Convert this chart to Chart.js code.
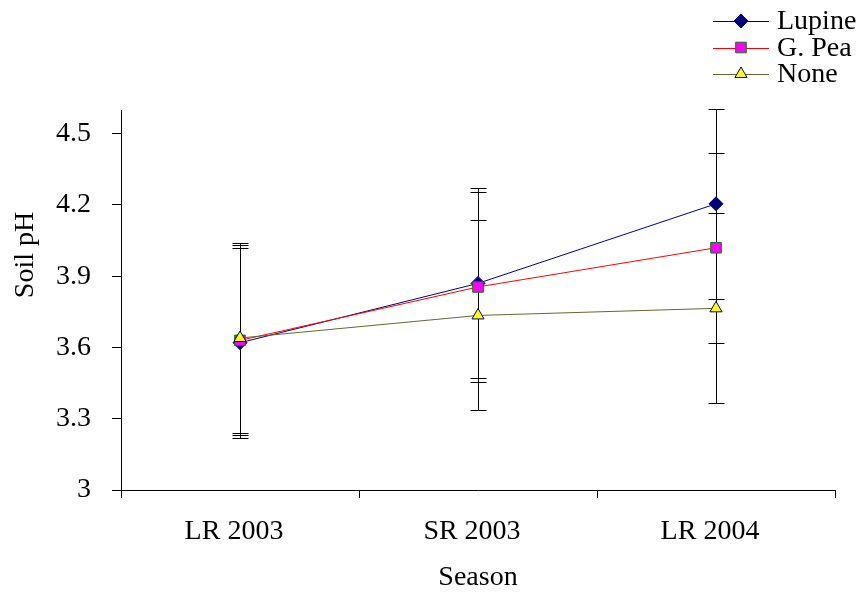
<!DOCTYPE html>
<html>
<head>
<meta charset="utf-8">
<script src="https://cdn.jsdelivr.net/npm/chart.js@4.4.0/dist/chart.umd.min.js"></script>
<style>
  html, body { margin: 0; padding: 0; background: #fff; }
  #wrap { width: 860px; height: 592px; }
</style>
</head>
<body>
<div id="wrap"><canvas id="phChart"></canvas></div>
<script>
// data
const seasons = ['LR 2003', 'SR 2003', 'LR 2004'];
const lupine = [3.62, 3.87, 4.205];
const gPea = [3.63, 3.855, 4.02];
const none = [3.64, 3.735, 3.765];
const lupineErr = [0.4, 0.4, 0.4];
const gPeaErr = [0.4, 0.4, 0.4];
const noneErr = [0.4, 0.4, 0.4];
const yTicks = [3, 3.3, 3.6, 3.9, 4.2, 4.5];

const FONT = 'Liberation Serif, Times New Roman, serif';

// error bars, drawn under the lines and markers
const errorBars = {
  id: 'errorBars',
  beforeDatasetsDraw(chart) {
    const { ctx, scales: { y } } = chart;
    ctx.save();
    ctx.strokeStyle = '#000';
    ctx.lineWidth = 1;
    chart.data.datasets.forEach((ds, i) => {
      chart.getDatasetMeta(i).data.forEach((pt, j) => {
        const x = Math.round(pt.x) + 0.5;
        const top = Math.round(y.getPixelForValue(ds.data[j] + ds.errors[j])) + 0.5;
        const bot = Math.round(y.getPixelForValue(ds.data[j] - ds.errors[j])) + 0.5;
        ctx.beginPath();
        ctx.moveTo(x, top); ctx.lineTo(x, bot);
        ctx.moveTo(x - 8, top); ctx.lineTo(x + 8, top);
        ctx.moveTo(x - 8, bot); ctx.lineTo(x + 8, bot);
        ctx.stroke();
      });
    });
    ctx.restore();
  }
};

// legend with a line through each marker, top right
const lineLegend = {
  id: 'lineLegend',
  afterDraw(chart) {
    const { ctx } = chart;
    ctx.save();
    ctx.font = '28px ' + FONT;
    ctx.textBaseline = 'middle';
    ctx.fillStyle = '#000';
    chart.data.datasets.forEach((ds, i) => {
      const yy = 21 + i * 26.5;
      ctx.strokeStyle = ds.borderColor;
      ctx.lineWidth = 1;
      ctx.beginPath();
      ctx.moveTo(713, Math.round(yy) + 0.5);
      ctx.lineTo(769, Math.round(yy) + 0.5);
      ctx.stroke();
      ctx.fillStyle = ds.pointBackgroundColor;
      ctx.strokeStyle = ds.pointBorderColor;
      Chart.helpers.drawPoint(ctx, {
        pointStyle: ds.pointStyle,
        radius: ds.pointRadius,
        borderWidth: 1,
        rotation: 0
      }, 741, yy);
      ctx.fillStyle = '#000';
      ctx.fillText(ds.label, 777, yy + 1);
    });
    // y axis title
    ctx.translate(26, 255);
    ctx.rotate(-Math.PI / 2);
    ctx.textAlign = 'center';
    ctx.fillText('Soil pH', 0, 0);
    ctx.restore();
  }
};

new Chart(document.getElementById('phChart'), {
  type: 'line',
  data: {
    labels: seasons,
    datasets: [
      {
        label: 'Lupine',
        data: lupine,
        errors: lupineErr,
        borderColor: '#000080',
        borderWidth: 1,
        pointStyle: 'rectRot',
        pointRadius: 7,
        pointBackgroundColor: '#000080',
        pointBorderColor: '#000080',
        order: 3
      },
      {
        label: 'G. Pea',
        data: gPea,
        errors: gPeaErr,
        borderColor: '#ff0000',
        borderWidth: 1,
        pointStyle: 'rect',
        pointRadius: 7.5,
        pointBackgroundColor: '#ff00ff',
        pointBorderColor: '#008000',
        order: 2
      },
      {
        label: 'None',
        data: none,
        errors: noneErr,
        borderColor: '#666633',
        borderWidth: 1,
        pointStyle: 'triangle',
        pointRadius: 7,
        pointBackgroundColor: '#ffff00',
        pointBorderColor: '#000080',
        order: 1
      }
    ]
  },
  options: {
    responsive: true,
    maintainAspectRatio: false,
    animation: false,
    layout: { padding: { top: 110, right: 25, left: 0, bottom: 0 } },
    plugins: {
      legend: { display: false },
      tooltip: { enabled: false }
    },
    scales: {
      x: {
        offset: true,
        grid: { display: true, offset: true, drawOnChartArea: false, tickLength: 8, color: '#000' },
        border: { display: true, color: '#000' },
        ticks: { color: '#000', font: { family: FONT, size: 28 }, padding: 17, labelOffset: -6, maxRotation: 0 },
        title: { display: true, text: 'Season', color: '#000', font: { family: FONT, size: 28, lineHeight: 1 }, padding: 0 },
        afterFit: s => { s.height = 102; }
      },
      y: {
        min: 3,
        max: 4.6,
        afterBuildTicks: s => { s.ticks = yTicks.map(v => ({ value: v })); },
        grid: { display: true, drawOnChartArea: false, tickLength: 9, color: '#000' },
        border: { display: true, color: '#000' },
        ticks: { color: '#000', font: { family: FONT, size: 28 }, padding: 21, callback: v => String(v) },
        afterFit: s => { s.width = 121; }
      }
    }
  },
  plugins: [errorBars, lineLegend]
});
</script>
</body>
</html>
